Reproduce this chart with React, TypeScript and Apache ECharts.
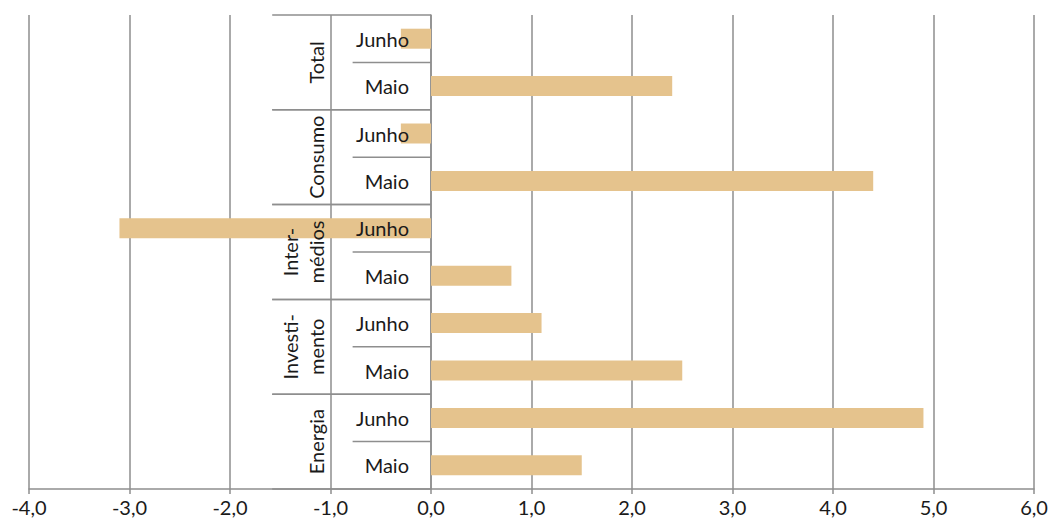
import React, { useEffect, useRef } from "react";
import * as echarts from "echarts";

const categories = ["Junho", "Maio", "Junho", "Maio", "Junho", "Maio", "Junho", "Maio", "Junho", "Maio"];
const values = [-0.3, 2.4, -0.3, 4.4, -3.1, 0.8, 1.1, 2.5, 4.9, 1.5];
const groups = ["Total", "Consumo", "Inter-\nmédios", "Investi-\nmento", "Energia"];
const groupStart = [0, 2, 4, 6, 8];
const xTicks = { min: -4, max: 6, interval: 1 };

const FONT = "Lato";
const GRID = "#8e8e8e";
const TEXT = "#1a1a1a";

export default function App() {
  const ref = useRef<HTMLDivElement>(null);
  useEffect(() => {
    if (!ref.current) return;
    const chart = echarts.init(ref.current, null, { renderer: "svg" });
    chart.setOption({
      animation: false,
      grid: { left: 29, right: 15, top: 15, bottom: 35, outerBoundsMode: "none", containLabel: false },
      xAxis: {
        type: "value",
        min: xTicks.min,
        max: xTicks.max,
        interval: xTicks.interval,
        axisLine: { show: true, lineStyle: { color: GRID, width: 1.5 } },
        axisTick: { show: true, length: 5, lineStyle: { color: GRID, width: 1.5 } },
        splitLine: { show: true, lineStyle: { color: GRID, width: 1.5 } },
        axisLabel: {
          fontFamily: FONT,
          fontSize: 20,
          color: TEXT,
          margin: 8,
          formatter: (v: number) => v.toFixed(1).replace(".", ","),
        },
      },
      yAxis: {
        type: "category",
        inverse: true,
        data: categories,
        axisLine: { show: true, onZero: true, lineStyle: { color: GRID, width: 1.5 } },
        axisTick: { show: false },
        axisLabel: { show: false },
      },
      series: [
        {
          type: "bar",
          data: values,
          barWidth: 20,
          itemStyle: { color: "#E5C38D" },
          z: 2,
        },
        {
          type: "custom",
          z: 5,
          clip: false,
          data: groupStart.map((s) => [0, s]),
          encode: { x: 0, y: 1 },
          renderItem: (params: any, api: any) => {
            const i = params.dataIndex;
            const start = api.value(1) as number;
            const band = api.size([0, 1])[1];
            const cTop = api.coord([0, start]);
            const cBot = api.coord([0, start + 1]);
            const top = cTop[1] - band / 2;
            const mid = cTop[1] + band / 2;
            const bottom = cBot[1] + band / 2;
            const x0 = cTop[0];
            const xOuter = api.coord([-1.58, start])[0];
            const xInner = api.coord([-0.78, start])[0];
            const xLabel = api.coord([-1, start])[0];
            const lineStyle = { stroke: GRID, lineWidth: 1.5 };
            const subText = (idx: number, y: number) => ({
              type: "text",
              x: x0 - 22,
              y,
              style: {
                text: categories[idx],
                fontFamily: FONT,
                fontSize: 20,
                fill: TEXT,
                align: "right",
                verticalAlign: "middle",
              },
            });
            return {
              type: "group",
              children: [
                { type: "line", shape: { x1: xOuter, y1: top, x2: x0, y2: top }, style: lineStyle },
                { type: "line", shape: { x1: xOuter, y1: bottom, x2: x0, y2: bottom }, style: lineStyle },
                { type: "line", shape: { x1: xInner, y1: mid, x2: x0, y2: mid }, style: lineStyle },
                subText(start, cTop[1]),
                subText(start + 1, cBot[1]),
                {
                  type: "text",
                  x: xLabel - 2,
                  y: (top + bottom) / 2,
                  rotation: Math.PI / 2,
                  style: {
                    text: groups[i],
                    fontFamily: FONT,
                    fontSize: 20,
                    lineHeight: 26,
                    fill: TEXT,
                    align: "center",
                    verticalAlign: "bottom",
                  },
                },
              ],
            };
          },
        },
      ],
    });
    return () => chart.dispose();
  }, []);
  return (
    <div
      ref={ref}
      style={{ position: "fixed", left: 0, top: 0, width: 1049, height: 524, background: "#fff" }}
    />
  );
}
